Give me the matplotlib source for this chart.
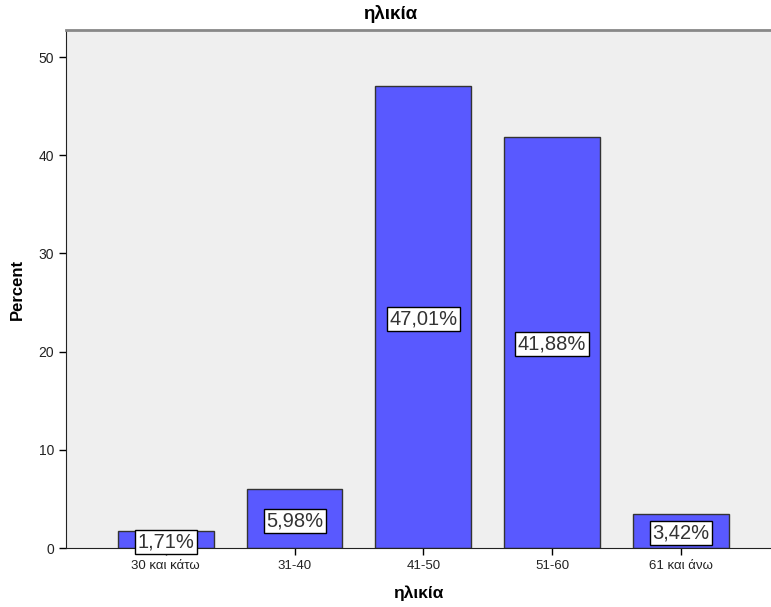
import numpy as np
import matplotlib
matplotlib.use('Agg')
from matplotlib import pyplot as plt

plt.rcParams['font.family'] = ['Liberation Sans', 'DejaVu Sans']

categories = ['30 και κάτω', '31-40', '41-50', '51-60', '61 και άνω']
percents = [1.71, 5.98, 47.01, 41.88, 3.42]
label_texts = ['1,71%', '5,98%', '47,01%', '41,88%', '3,42%']

fig = plt.figure(figsize=(7.71, 6.07), dpi=100)
ax = fig.add_axes([66 / 771, 59 / 607, 1 - 66 / 771, (548 - 30) / 607])
ax.set_facecolor('#efefef')

x = np.arange(len(categories))
ax.bar(x, percents, width=0.744, color='#5959ff', edgecolor='#333333', linewidth=1.0, zorder=2)

for xi, v, t in zip(x, percents, label_texts):
    ax.annotate(t, (xi, v / 2), xytext=(0, -2), textcoords='offset pixels',
                ha='center', va='center', fontsize=14.5, color='#333333', zorder=3,
                bbox=dict(boxstyle='square,pad=0.12', facecolor='white', edgecolor='black', linewidth=1.0))

ax.set_xlim(-0.775, 4.70)
ax.set_ylim(0, 52.75)
ax.set_yticks([0, 10, 20, 30, 40, 50])
ax.set_xticks(x)
ax.set_xticklabels(categories, fontsize=9.5, color='#222222')
ax.tick_params(axis='y', labelsize=10, labelcolor='#222222', length=5, width=1)
ax.tick_params(axis='x', length=5, width=1)

ax.spines['right'].set_visible(False)
ax.spines['top'].set_color('#888888')
ax.spines['top'].set_linewidth(2)
ax.spines['left'].set_color('#222222')
ax.spines['bottom'].set_color('#222222')

ax.set_xlabel('ηλικία', fontsize=12.5, fontweight='bold', labelpad=10)
ax.set_ylabel('Percent', fontsize=12, fontweight='bold', labelpad=10)
fig.text(390 / 771, 1 - 14 / 607, 'ηλικία', ha='center', va='center', fontsize=13.5, fontweight='bold')

fig.savefig('out.png', dpi=100)
